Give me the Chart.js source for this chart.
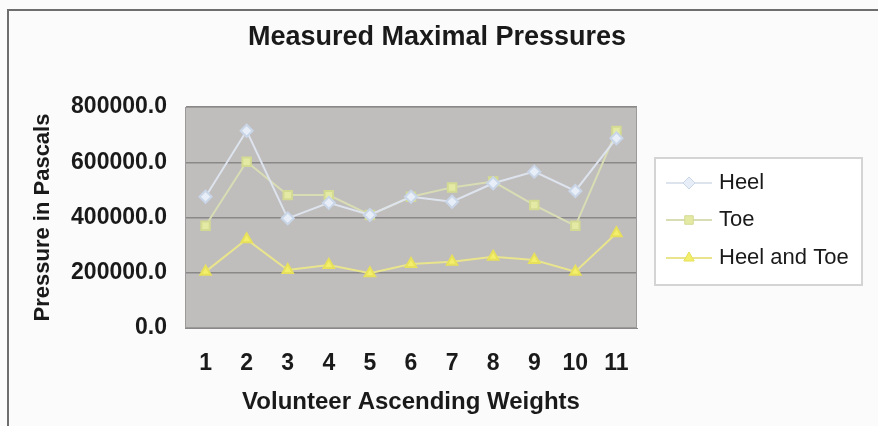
<!DOCTYPE html>
<html>
<head>
<meta charset="utf-8">
<script src="https://cdn.jsdelivr.net/npm/chart.js@4.4.1/dist/chart.umd.min.js"></script>
<style>
  html, body { margin: 0; padding: 0; background: #fbfbfb; }
  #wrap { width: 878px; height: 426px; position: relative; }
</style>
</head>
<body>
<div id="wrap"><canvas id="c" width="878" height="426"></canvas></div>
<script>
const categories = ['1', '2', '3', '4', '5', '6', '7', '8', '9', '10', '11'];
const seriesNames = ['Heel', 'Toe', 'Heel and Toe'];
const heel = [475000, 714000, 397000, 453000, 409000, 475000, 457000, 524000, 566000, 496000, 687000];
const toe = [370000, 602000, 481000, 481000, 409000, 475000, 509000, 530000, 445000, 370000, 713000];
const heelAndToe = [204000, 321000, 210000, 228000, 198000, 232000, 240000, 258000, 246000, 204000, 343000];
const chartTitle = 'Measured Maximal Pressures';
const xTitle = 'Volunteer Ascending Weights';
const yTitle = 'Pressure in Pascals';

const FONT = "'Liberation Sans', Arial, sans-serif";

const frameAndPlot = {
  id: 'frameAndPlot',
  beforeDraw(chart) {
    const ctx = chart.ctx;
    ctx.save();
    ctx.fillStyle = '#fbfbfb';
    ctx.fillRect(0, 0, chart.width, chart.height);
    ctx.strokeStyle = '#6e6e6e';
    ctx.lineWidth = 2;
    ctx.beginPath();
    ctx.moveTo(8, chart.height);
    ctx.lineTo(8, 10);
    ctx.lineTo(chart.width, 10);
    ctx.stroke();
    const a = chart.chartArea;
    ctx.fillStyle = '#c0bdbd';
    ctx.fillRect(a.left, a.top, a.right - a.left, a.bottom - a.top);
    // chart title
    ctx.fillStyle = '#1a1a1a';
    ctx.font = 'bold 27px ' + FONT;
    ctx.textAlign = 'center';
    ctx.textBaseline = 'middle';
    ctx.fillText(chartTitle, 437, 38);
    ctx.restore();
  },
  afterDatasetsDraw(chart) {
    const ctx = chart.ctx;
    const a = chart.chartArea;
    ctx.save();
    ctx.strokeStyle = '#9c9999';
    ctx.lineWidth = 1;
    ctx.strokeRect(a.left + 0.5, a.top + 0.5, a.right - a.left - 1, a.bottom - a.top - 1);
    ctx.restore();
  }
};

const customLegend = {
  id: 'customLegend',
  afterDraw(chart) {
    const ctx = chart.ctx;
    const bx = 655, by = 158, bw = 207, bh = 127;
    ctx.save();
    ctx.fillStyle = '#ffffff';
    ctx.fillRect(bx, by, bw, bh);
    ctx.strokeStyle = '#d4d4d4';
    ctx.lineWidth = 2;
    ctx.strokeRect(bx, by, bw, bh);
    const rows = [183, 220, 258];
    chart.data.datasets.forEach((ds, i) => {
      const y = rows[i];
      ctx.strokeStyle = ds.borderColor;
      ctx.lineWidth = 2;
      ctx.beginPath();
      ctx.moveTo(666, y);
      ctx.lineTo(712, y);
      ctx.stroke();
      ctx.fillStyle = ds.pointBackgroundColor;
      ctx.strokeStyle = ds.pointBorderColor;
      ctx.lineWidth = 1;
      Chart.helpers.drawPoint(ctx, {
        pointStyle: ds.pointStyle,
        radius: ds.pointRadius,
        rotation: 0,
        borderWidth: 1
      }, 689, y);
      ctx.fillStyle = '#1a1a1a';
      ctx.font = '22px ' + FONT;
      ctx.textBaseline = 'middle';
      ctx.textAlign = 'left';
      ctx.fillText(ds.label, 719, y);
    });
    ctx.restore();
  }
};

new Chart(document.getElementById('c'), {
  type: 'line',
  data: {
    labels: categories,
    datasets: [
      {
        label: seriesNames[0], data: heel,
        borderColor: '#dde4ee', backgroundColor: '#e8eef8',
        pointBackgroundColor: '#e8eef8', pointBorderColor: '#c9d6e8',
        pointStyle: 'rectRot', pointRadius: 6, borderWidth: 2, tension: 0
      },
      {
        label: seriesNames[1], data: toe,
        borderColor: '#d9ddb4', backgroundColor: '#e4eaa4',
        pointBackgroundColor: '#e4eaa4', pointBorderColor: '#d3da92',
        pointStyle: 'rect', pointRadius: 6, borderWidth: 2, tension: 0
      },
      {
        label: seriesNames[2], data: heelAndToe,
        borderColor: '#e9e58c', backgroundColor: '#f3ef6a',
        pointBackgroundColor: '#f3ef6a', pointBorderColor: '#e6e05a',
        pointStyle: 'triangle', pointRadius: 6, borderWidth: 2, tension: 0
      }
    ]
  },
  options: {
    responsive: false,
    animation: false,
    devicePixelRatio: 1,
    layout: { padding: { top: 107, right: 241, bottom: 0, left: 0 } },
    plugins: {
      legend: { display: false },
      tooltip: { enabled: false },
      title: { display: false }
    },
    scales: {
      x: {
        offset: true,
        grid: { display: false, drawTicks: false },
        border: { display: true, color: '#8a8888', width: 1 },
        ticks: {
          color: '#1a1a1a', padding: 22,
          font: { family: FONT, size: 23, weight: 'bold' }
        },
        title: {
          display: true, text: xTitle, color: '#1a1a1a',
          font: { family: FONT, size: 24, weight: 'bold' },
          padding: { top: 0, bottom: 9 }
        },
        afterFit(scale) { scale.height = 98; }
      },
      y: {
        min: 0, max: 800000,
        grid: { color: '#8a8888', lineWidth: 1.5, drawTicks: false },
        border: { display: true, color: '#8a8888', width: 1 },
        ticks: {
          stepSize: 200000, padding: 18, color: '#1a1a1a',
          font: { family: FONT, size: 23, weight: 'bold' },
          callback: (v) => Number(v).toFixed(1)
        },
        title: {
          display: true, text: yTitle, color: '#1a1a1a',
          font: { family: FONT, size: 22, weight: 'bold' },
          padding: { top: 30, bottom: 0 }
        },
        afterFit(scale) { scale.width = 185; }
      }
    }
  },
  plugins: [frameAndPlot, customLegend]
});
</script>
</body>
</html>
